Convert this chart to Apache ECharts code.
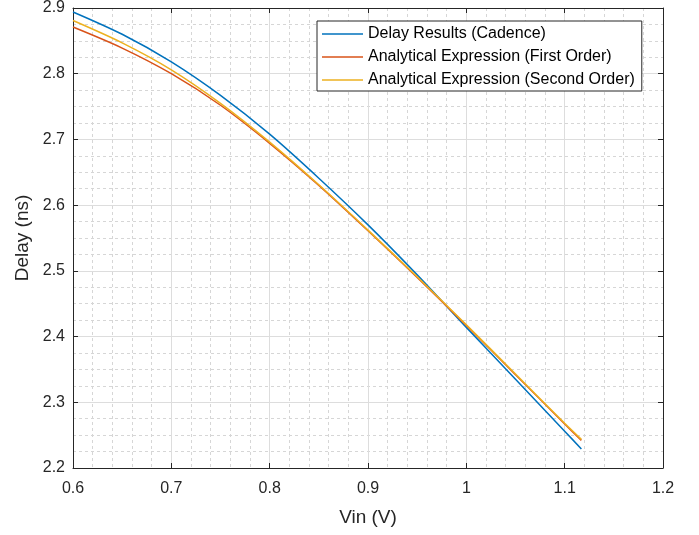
<!DOCTYPE html>
<html>
<head>
<meta charset="utf-8">
<script src="https://cdn.jsdelivr.net/npm/echarts@6/dist/echarts.min.js"></script>
<style>
  html, body { margin: 0; padding: 0; background: #fff; }
  #chart { width: 699px; height: 535px; }
</style>
</head>
<body>
<div id="chart"></div>
<script>
// Vin (V)
const vin = [0.6, 0.65, 0.7, 0.75, 0.8, 0.85, 0.9, 0.95, 1.0, 1.05, 1.1, 1.117];
// Delay (ns)
const cadence = [2.894, 2.860, 2.818, 2.767, 2.708, 2.641, 2.570, 2.494, 2.414, 2.335, 2.256, 2.229];
const firstOrder = [2.871, 2.839, 2.800, 2.752, 2.694, 2.630, 2.561, 2.490, 2.417, 2.342, 2.267, 2.242];
const secondOrder = [2.881, 2.847, 2.806, 2.755, 2.696, 2.631, 2.562, 2.491, 2.418, 2.343, 2.268, 2.2435];

const seriesNames = ['Delay Results (Cadence)', 'Analytical Expression (First Order)', 'Analytical Expression (Second Order)'];
const colors = ['#0072BD', '#D95319', '#EDB120'];

const font = 'Liberation Sans, Arial, Helvetica, sans-serif';
const axisColor = '#262626';

function pairs(ys) {
  return vin.map((x, i) => [x, ys[i]]);
}

const myChart = echarts.init(document.getElementById('chart'));

// top / right axes just close the box and carry inner ticks
const boxAxis = {
  axisLabel: { show: false },
  axisLine: { show: true, lineStyle: { color: axisColor, width: 1 } },
  axisTick: { show: true, inside: true, length: 5, lineStyle: { color: axisColor } },
  splitLine: { show: false },
};

const options = {
  animation: false,
  color: colors,
  grid: { left: 73, right: 36, top: 3, bottom: 67 },
  legend: {
    orient: 'vertical',
    left: 317,
    top: 21,
    data: seriesNames,
    icon: 'rect',
    itemWidth: 41,
    itemHeight: 1.5,
    itemGap: 7,
    padding: [5, 7, 3, 5],
    borderColor: axisColor,
    borderWidth: 1,
    backgroundColor: '#fff',
    textStyle: { fontFamily: font, fontSize: 16, color: '#000' },
  },
  xAxis: [
    {
      type: 'value',
      min: 0.6,
      max: 1.2,
      interval: 0.1,
      name: 'Vin (V)',
      nameLocation: 'middle',
      nameGap: 40,
      nameTextStyle: { fontFamily: font, fontSize: 19, color: axisColor },
      axisLabel: { fontFamily: font, fontSize: 16, color: axisColor, margin: 13 },
      axisLine: { onZero: false, lineStyle: { color: axisColor, width: 1 } },
      axisTick: { inside: true, length: 5, lineStyle: { color: axisColor } },
      splitLine: { show: true, lineStyle: { color: '#dddddd', width: 1 } },
      minorTick: { show: false, splitNumber: 5 },
      minorSplitLine: { show: true, lineStyle: { color: '#d6d6d6', type: [3, 3], width: 1 } },
    },
    Object.assign({ type: 'value', position: 'top', min: 0.6, max: 1.2, interval: 0.1 }, boxAxis),
  ],
  yAxis: [
    {
      type: 'value',
      min: 2.2,
      max: 2.9,
      interval: 0.1,
      name: 'Delay (ns)',
      nameLocation: 'middle',
      nameGap: 39,
      nameTextStyle: { fontFamily: font, fontSize: 19, color: axisColor },
      axisLabel: { fontFamily: font, fontSize: 16, color: axisColor, margin: 8 },
      axisLine: { show: true, onZero: false, lineStyle: { color: axisColor, width: 1 } },
      axisTick: { show: true, inside: true, length: 5, lineStyle: { color: axisColor } },
      splitLine: { show: true, lineStyle: { color: '#dddddd', width: 1 } },
      minorTick: { show: false, splitNumber: 4 },
      minorSplitLine: { show: true, lineStyle: { color: '#d6d6d6', type: [3, 3], width: 1 } },
    },
    Object.assign({ type: 'value', position: 'right', min: 2.2, max: 2.9, interval: 0.1 }, boxAxis),
  ],
  series: [
    { name: seriesNames[0], type: 'line', data: pairs(cadence) },
    { name: seriesNames[1], type: 'line', data: pairs(firstOrder) },
    { name: seriesNames[2], type: 'line', data: pairs(secondOrder) },
  ].map((s, i) => Object.assign(s, {
    smooth: 0.3,
    showSymbol: false,
    lineStyle: { width: 1.5, color: colors[i] },
    itemStyle: { color: colors[i] },
  })),
};

myChart.setOption(options);
</script>
</body>
</html>
